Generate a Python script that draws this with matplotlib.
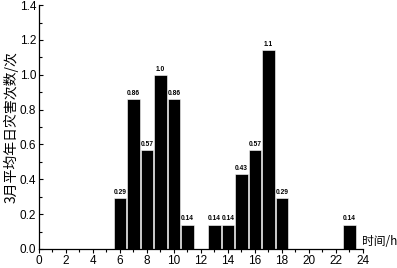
import matplotlib
matplotlib.use('Agg')
import matplotlib.pyplot as plt
from matplotlib.ticker import MultipleLocator

plt.rcParams['font.family'] = ['Liberation Sans', 'Noto Sans CJK SC', 'DejaVu Sans']

# 各时段灾害次数
hours = [6, 7, 8, 9, 10, 11, 13, 14, 15, 16, 17, 18, 23]
counts = [0.29, 0.86, 0.57, 1.0, 0.86, 0.14, 0.14, 0.14, 0.43, 0.57, 1.14, 0.29, 0.14]
labels = ['0.29', '0.86', '0.57', '1.0', '0.86', '0.14', '0.14', '0.14', '0.43', '0.57', '1.1', '0.29', '0.14']

fig = plt.figure(figsize=(3.97, 2.68), dpi=100)
ax = fig.add_axes([0.098, 0.071, 0.816, 0.91])

ax.bar(hours, counts, width=0.92, color='black', edgecolor='white', linewidth=0.4)
for h, c, t in zip(hours, counts, labels):
    ax.text(h, c + 0.012, t, ha='center', va='bottom', fontsize=4.8, fontweight='bold')

ax.set_xlim(0, 24)
ax.set_ylim(0, 1.4)
ax.xaxis.set_major_locator(MultipleLocator(2))
ax.xaxis.set_minor_locator(MultipleLocator(1))
ax.yaxis.set_major_locator(MultipleLocator(0.2))
ax.yaxis.set_minor_locator(MultipleLocator(0.1))
ax.yaxis.set_major_formatter(plt.FormatStrFormatter('%.1f'))
ax.tick_params(axis='x', direction='out', length=3, width=0.8, labelsize=8.5, pad=1)
ax.tick_params(axis='x', which='minor', direction='out', length=1.8, width=0.8)
ax.tick_params(axis='y', direction='in', length=3, width=0.8, labelsize=8.5, pad=2)
ax.tick_params(axis='y', which='minor', direction='in', length=1.8, width=0.8)
for s in ['top', 'right']:
    ax.spines[s].set_visible(False)
for s in ['left', 'bottom']:
    ax.spines[s].set_linewidth(0.9)

ax.set_ylabel('3月平均年日灾害次数/次', fontsize=10, family=['Noto Sans CJK SC', 'DejaVu Sans'], labelpad=1)
ax.text(0.997, 0.03, '时间/h', transform=ax.transAxes, ha='left', va='center', fontsize=8.5,
        family=['Noto Sans CJK SC', 'DejaVu Sans'], clip_on=False)

fig.savefig('out.png', dpi=100)
